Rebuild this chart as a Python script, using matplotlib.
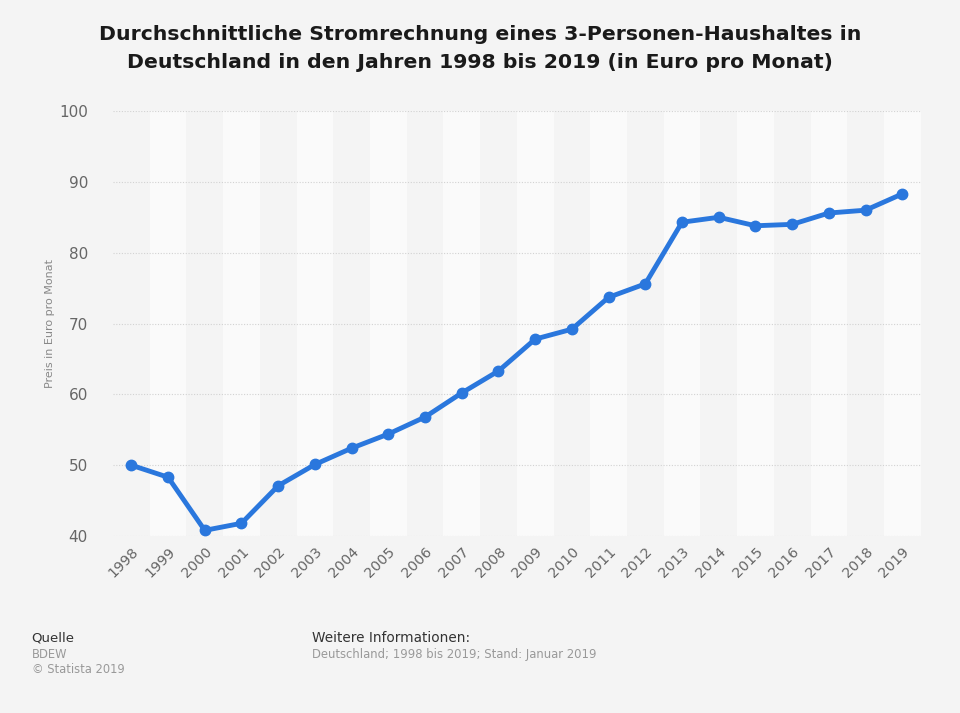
import matplotlib.pyplot as plt

# Durchschnittliche Stromrechnung 3-Personen-Haushalt (Euro/Monat), BDEW
years = list(range(1998, 2020))
preis = [50.0, 48.3, 40.8, 41.8, 47.1, 50.1, 52.4, 54.4, 56.8, 60.2, 63.3,
         67.8, 69.2, 73.7, 75.6, 84.3, 85.0, 83.8, 84.0, 85.6, 86.0, 88.3]
yticks = [40, 50, 60, 70, 80, 90, 100]

BG = "#f4f4f4"
LINE = "#2a77dd"

fig = plt.figure(figsize=(9.6, 7.13), dpi=100, facecolor=BG)
ax = fig.add_axes([0.1177, 0.2482, 0.8413, 0.5961])
ax.set_facecolor(BG)

# abwechselnde Spaltenstreifen
for i, yr in enumerate(years):
    if i % 2 == 1:
        ax.axvspan(yr - 0.5, yr + 0.5, color="#fafafa", zorder=0, lw=0)

for y in yticks:
    ax.axhline(y, color="#d2d2d2", lw=0.8, ls=(0, (1, 1.5)), zorder=1)

ax.plot(years, preis, color=LINE, lw=3.5, marker="o", ms=7.5, zorder=3,
        solid_capstyle="round")

ax.set_xlim(years[0] - 0.5, years[-1] + 0.5)
ax.set_ylim(40, 100)
ax.set_yticks(yticks)
ax.set_xticks(years)
ax.set_xticklabels([str(y) for y in years], rotation=45, ha="right",
                   rotation_mode="anchor", fontsize=10.3, color="#666666")
ax.tick_params(axis="y", labelsize=11, labelcolor="#666666", length=0, pad=18)
ax.tick_params(axis="x", length=0, pad=6)
for s in ax.spines.values():
    s.set_visible(False)

fig.text(0.052, 0.546, "Preis in Euro pro Monat", rotation=90, fontsize=8,
         color="#888888", ha="center", va="center")

fig.text(0.5, 0.932, "Durchschnittliche Stromrechnung eines 3-Personen-Haushaltes in\n"
         "Deutschland in den Jahren 1998 bis 2019 (in Euro pro Monat)",
         ha="center", va="center", fontsize=14.7, fontweight="bold",
         color="#1a1a1a", linespacing=1.6)

fig.text(0.033, 0.105, "Quelle", fontsize=9.5, color="#333333", va="center")
fig.text(0.033, 0.082, "BDEW", fontsize=8.3, color="#999999", va="center")
fig.text(0.033, 0.061, "\u00a9 Statista 2019", fontsize=8.3, color="#999999", va="center")
fig.text(0.325, 0.105, "Weitere Informationen:", fontsize=9.8, color="#333333", va="center")
fig.text(0.325, 0.082, "Deutschland; 1998 bis 2019; Stand: Januar 2019", fontsize=8.4,
         color="#999999", va="center")

fig.savefig("out.png", dpi=100, facecolor=BG)
